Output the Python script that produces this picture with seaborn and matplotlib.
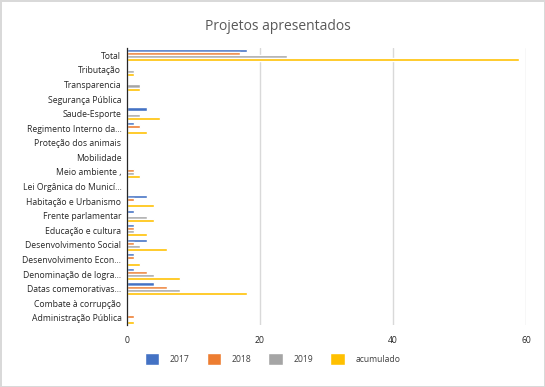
import matplotlib
matplotlib.use("Agg")
import matplotlib.pyplot as plt
import seaborn as sns
import pandas as pd
import numpy as np

# Categorias (de cima para baixo)
categorias = [
    "Total", "Tributação", "Transparencia", "Segurança Pública", "Saude-Esporte",
    "Regimento Interno da…", "Proteção dos animais", "Mobilidade", "Meio ambiente ,",
    "Lei Orgânica do Municí…", "Habitação e Urbanismo", "Frente parlamentar",
    "Educação e cultura", "Desenvolvimento Social", "Desenvolvimento Econ…",
    "Denominação de logra…", "Datas comemorativas…", "Combate à corrupção",
    "Administração Pública",
]
anos = ["2017", "2018", "2019", "acumulado"]

v2017 = [18, 0, 0, 0, 3, 1, 0, 0, 0, 0, 3, 1, 1, 3, 1, 1, 4, 0, 0]
v2018 = [17, 0, 0, 0, 0, 2, 0, 0, 1, 0, 1, 0, 1, 1, 1, 3, 6, 0, 1]
v2019 = [24, 1, 2, 0, 2, 0, 0, 0, 1, 0, 0, 3, 1, 2, 0, 4, 8, 0, 0]
acumulado = [59, 1, 2, 0, 5, 3, 0, 0, 2, 0, 4, 4, 3, 6, 2, 8, 18, 0, 1]

cores = ["#4472C4", "#ED7D31", "#A5A5A5", "#FFC000"]

df = pd.DataFrame({
    "categoria": categorias * 4,
    "ano": np.repeat(anos, len(categorias)),
    "valor": v2017 + v2018 + v2019 + acumulado,
})

sns.set_style("white")
plt.rcParams["font.family"] = ["Open Sans", "DejaVu Sans"]

fig = plt.figure(figsize=(5.45, 3.87), dpi=100)
ax = fig.add_axes([0.233, 0.16, 0.732, 0.716])

sns.barplot(data=df, y="categoria", x="valor", hue="ano", order=categorias,
            hue_order=anos, palette=cores, orient="h", width=0.85,
            saturation=1, ax=ax, legend=True)

ax.set_xlim(0, 60)
ax.set_xticks([0, 20, 40, 60])
ax.set_xlabel("")
ax.set_ylabel("")
for x in [20, 40, 60]:
    ax.axvline(x, color="#d9d9d9", lw=1, zorder=0)

for s in ["top", "right", "bottom"]:
    ax.spines[s].set_visible(False)
ax.spines["left"].set_color("#262626")
ax.spines["left"].set_linewidth(0.9)

ax.tick_params(axis="both", length=0, labelsize=6.2, labelcolor="#262626")
ax.tick_params(axis="x", pad=8)
ax.tick_params(axis="y", pad=4)
# marcas entre categorias
ax.set_yticks(np.arange(-0.5, len(categorias), 1), minor=True)
ax.tick_params(axis="y", which="minor", length=3, color="#404040")

fig.suptitle("Projetos apresentados", x=0.51, y=0.95, fontsize=10,
             color="#595959")

handles, labels = ax.get_legend_handles_labels()
ax.get_legend().remove()
fig.legend(handles, labels, loc="center", bbox_to_anchor=(0.5, 0.072),
           ncol=4, frameon=False, fontsize=6.2, handlelength=1.7,
           handleheight=1.7, handletextpad=1.2, columnspacing=2.0,
           labelcolor="#404040")

fig.patch.set_edgecolor("#d9d9d9")
fig.patch.set_linewidth(1)

fig.savefig("out.png", dpi=100)
